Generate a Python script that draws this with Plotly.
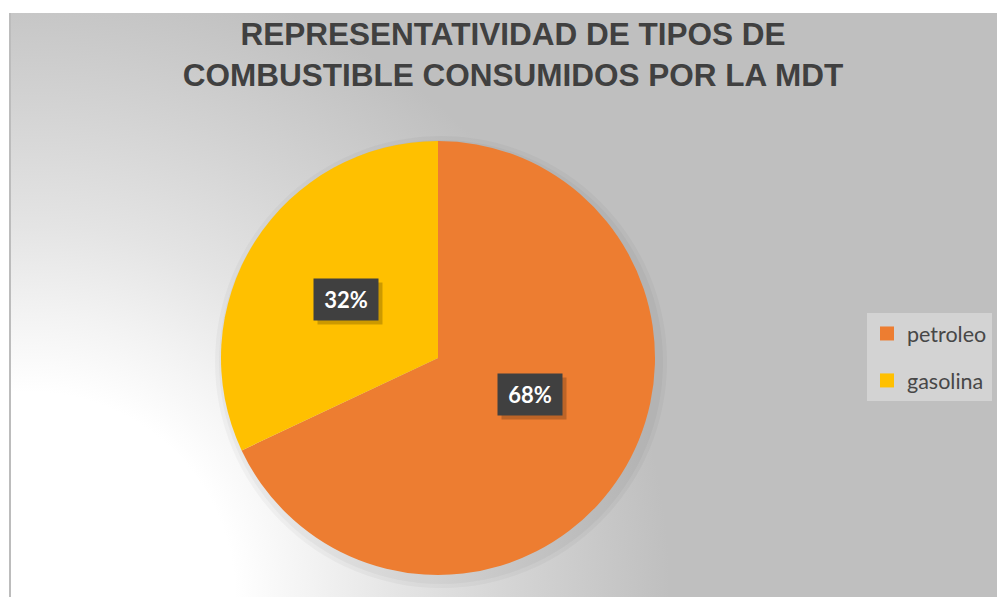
import base64
import math
import plotly.graph_objects as go

# ---- data ----
labels = ["petroleo", "gasolina"]
values = [68, 32]
colors = ["#ED7D31", "#FFC000"]
title_lines = ["REPRESENTATIVIDAD DE TIPOS DE", "COMBUSTIBLE CONSUMIDOS POR LA MDT"]

# ---- layout geometry (pixels) ----
W, H = 997, 597
CX, CY, R = 438, 358, 217          # pie centre / radius in px
AREA_X0, AREA_Y0 = 9, 13           # chart-area top-left


def dom(cx, cy, r):
    return dict(x=[(cx - r) / W, (cx + r) / W], y=[1 - (cy + r) / H, 1 - (cy - r) / H])


fig = go.Figure()

# soft shadow behind the pie
for i, extra in enumerate([9, 5]):
    fig.add_trace(go.Pie(
        values=[1], labels=["shadow%d" % i], marker=dict(colors=["rgba(0,0,0,0.03)"], line=dict(width=0)),
        domain=dom(CX + 3, CY + 4, R + extra), textinfo="none", hoverinfo="skip", showlegend=False, sort=False,
    ))

fig.add_trace(go.Pie(
    labels=labels, values=values, sort=False, direction="clockwise", rotation=0,
    marker=dict(colors=colors, line=dict(width=0)),
    domain=dom(CX, CY, R), textinfo="none", hoverinfo="label+percent", showlegend=False,
))

# legend via dummy traces (for spacing control)
for lab, col in zip(labels, colors):
    fig.add_trace(go.Scatter(
        x=[None], y=[None], mode="markers", name=lab, legendgroup=lab,
        marker=dict(symbol="square", size=14, color=col), showlegend=True,
    ))

# data labels placed along slice mid-angles
total = sum(values)
cum = 0
for v in values:
    mid = (cum + v / 2) / total * 2 * math.pi
    cum += v
    px = CX + 0.5 * R * math.sin(mid)
    py = CY - 0.5 * R * math.cos(mid)
    txt = "%d%%" % round(v / total * 100)
    common = dict(x=px / W, y=1 - py / H, xref="paper", yref="paper", showarrow=False,
                  width=50, height=27, borderpad=7)
    # drop shadow box (no text)
    fig.add_annotation(text=" ", bgcolor="rgba(0,0,0,0.2)", xshift=4, yshift=-4,
                       font=dict(family="Lato", size=22, color="rgba(0,0,0,0)"), **common)
    fig.add_annotation(text=txt, bgcolor="#404040",
                       font=dict(family="Lato", size=22, color="white", weight="bold"), **common)

# background gradient (chart area) as an SVG image
aw, ah = W - AREA_X0, H - AREA_Y0
svg = f'''<svg xmlns="http://www.w3.org/2000/svg" width="{aw}" height="{ah}" viewBox="0 0 {aw} {ah}" preserveAspectRatio="none">
<defs><radialGradient id="g" gradientUnits="userSpaceOnUse" cx="21" cy="{ah}" r="640">
<stop offset="0" stop-color="#ffffff"/>
<stop offset="0.32" stop-color="#ffffff"/>
<stop offset="0.44" stop-color="#f3f3f3"/>
<stop offset="0.58" stop-color="#e4e4e4"/>
<stop offset="0.78" stop-color="#d2d2d2"/>
<stop offset="1" stop-color="#bfbfbf"/>
</radialGradient></defs>
<rect x="0" y="0" width="{aw}" height="{ah}" fill="url(#g)"/>
<rect x="0" y="0" width="2" height="{ah}" fill="#bcbcbc"/>
</svg>'''
src = "data:image/svg+xml;base64," + base64.b64encode(svg.encode()).decode()

fig.update_layout(
    width=W, height=H,
    margin=dict(l=0, r=0, t=0, b=0),
    paper_bgcolor="white", plot_bgcolor="rgba(0,0,0,0)",
    xaxis=dict(visible=False), yaxis=dict(visible=False),
    images=[dict(source=src, xref="paper", yref="paper", x=AREA_X0 / W, y=1 - AREA_Y0 / H,
                 sizex=aw / W, sizey=ah / H, sizing="stretch", xanchor="left", yanchor="top", layer="below")],
    title=dict(text="<br>".join(title_lines), x=513 / W, xanchor="center", xref="paper",
               y=1 - 45 / H, yanchor="top", yref="container",
               font=dict(family="Liberation Sans, Arial", size=31.5, color="#404040", weight="bold")),
    legend=dict(x=867 / W, y=1 - 313 / H, xanchor="left", yanchor="top", bgcolor="#d3d3d3",
                font=dict(family="Lato", size=21.5, color="#474747"), tracegroupgap=16,
                traceorder="grouped", itemwidth=30),
    showlegend=True,
)

fig.write_html("out.html", config={"displayModeBar": False},
               post_script="document.body.style.margin='0';")
